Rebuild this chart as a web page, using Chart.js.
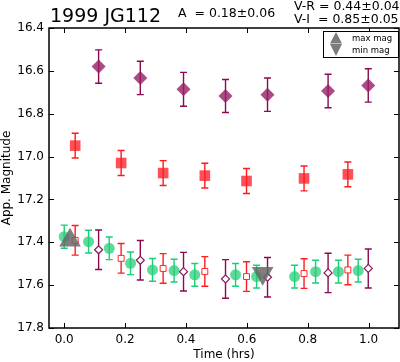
<!DOCTYPE html>
<html>
<head>
<meta charset="utf-8">
<script src="https://cdn.jsdelivr.net/npm/chart.js@4/dist/chart.umd.min.js"></script>
<style>
  body { margin: 0; background: #fff; }
</style>
</head>
<body>
<canvas id="c" width="400" height="362"></canvas>
<script>
// axis ticks
const xTicks = [0.0, 0.2, 0.4, 0.6, 0.8, 1.0];
const yTicks = [16.4, 16.6, 16.8, 17.0, 17.2, 17.4, 17.6, 17.8];

// I band (filled diamonds)
const iTime = [0.113, 0.250, 0.392, 0.530, 0.668, 0.867, 0.999];
const iMag = [16.580, 16.633, 16.686, 16.717, 16.711, 16.694, 16.668];
const iErr = [0.078, 0.078, 0.079, 0.077, 0.078, 0.078, 0.078];

// R band (filled squares)
const rTime = [0.036, 0.187, 0.325, 0.462, 0.599, 0.788, 0.932];
const rMag = [16.949, 17.030, 17.077, 17.089, 17.114, 17.102, 17.083];
const rErr = [0.058, 0.058, 0.058, 0.058, 0.058, 0.058, 0.058];

// V band (circles)
const vTime = [0.000, 0.080, 0.148, 0.218, 0.290, 0.361, 0.429, 0.563, 0.632, 0.757, 0.826, 0.901, 0.966];
const vMag = [17.374, 17.397, 17.428, 17.498, 17.529, 17.532, 17.552, 17.552, 17.560, 17.560, 17.537, 17.537, 17.532];
const vErr = [0.054, 0.053, 0.053, 0.053, 0.053, 0.053, 0.053, 0.053, 0.053, 0.053, 0.053, 0.053, 0.053];

// R and I shifted by colour (open markers)
const rShiftMag = [17.391, 17.475, 17.522, 17.536, 17.560, 17.546, 17.529];
const rShiftErr = [0.069, 0.069, 0.069, 0.069, 0.069, 0.069, 0.069];
const iShiftMag = [17.435, 17.484, 17.537, 17.571, 17.563, 17.543, 17.522];
const iShiftErr = [0.092, 0.092, 0.090, 0.090, 0.092, 0.092, 0.091];

// max / min magnitude markers
const maxTime = [0.019];
const maxMag = [17.39];
const minTime = [0.652];
const minMag = [17.545];

const legendLabels = ['max mag', 'min mag'];
const titleText = '1999 JG112';
const ampText = 'A  = 0.18\u00b10.06';
const colorTexts = ['V-R = 0.44\u00b10.04', 'V-I  = 0.85\u00b10.05'];

const pts = (xs, ys) => xs.map((x, i) => ({x: x, y: ys[i]}));

Chart.defaults.font.family = 'DejaVu Sans';
Chart.defaults.color = '#000';

// error bars, drawn just under each dataset's markers
const errorBars = {
  id: 'errorBars',
  beforeDatasetDraw(chart, args) {
    const ds = chart.data.datasets[args.index];
    if (!ds.errors) return;
    const xs = chart.scales.x, ys = chart.scales.y;
    const ctx = chart.ctx;
    ctx.save();
    ctx.strokeStyle = ds.barColor;
    ctx.lineWidth = 1.4;
    ds.data.forEach((p, i) => {
      const px = xs.getPixelForValue(p.x);
      const top = ys.getPixelForValue(p.y - ds.errors[i]);
      const bot = ys.getPixelForValue(p.y + ds.errors[i]);
      ctx.beginPath();
      ctx.moveTo(px, top); ctx.lineTo(px, bot);
      ctx.moveTo(px - 3.5, top); ctx.lineTo(px + 3.5, top);
      ctx.moveTo(px - 3.5, bot); ctx.lineTo(px + 3.5, bot);
      ctx.stroke();
    });
    ctx.restore();
  }
};

// frame + inward ticks on all sides
const frame = {
  id: 'frame',
  afterDatasetsDraw(chart) {
    const {ctx, chartArea: a} = chart;
    const xs = chart.scales.x, ys = chart.scales.y;
    ctx.save();
    ctx.strokeStyle = '#000';
    ctx.lineWidth = 1;
    ctx.beginPath();
    xTicks.forEach(v => {
      const px = Math.round(xs.getPixelForValue(v)) + 0.5;
      ctx.moveTo(px, a.bottom); ctx.lineTo(px, a.bottom - 5);
      ctx.moveTo(px, a.top); ctx.lineTo(px, a.top + 5);
    });
    yTicks.forEach(v => {
      const py = Math.round(ys.getPixelForValue(v)) + 0.5;
      ctx.moveTo(a.left, py); ctx.lineTo(a.left + 5, py);
      ctx.moveTo(a.right, py); ctx.lineTo(a.right - 5, py);
    });
    ctx.stroke();
    ctx.lineWidth = 1.5;
    ctx.strokeRect(a.left, a.top, a.right - a.left, a.bottom - a.top);
    ctx.restore();
  },
  afterDraw(chart) {
    const ctx = chart.ctx;
    ctx.save();
    // titles
    ctx.fillStyle = '#000';
    ctx.textBaseline = 'alphabetic';
    ctx.font = '19px "DejaVu Sans"';
    ctx.fillText(titleText, 50, 22);
    ctx.font = '12.5px "DejaVu Sans"';
    ctx.fillText(ampText, 178, 17);
    ctx.fillText(colorTexts[0], 294, 10);
    ctx.fillText(colorTexts[1], 294, 23);
    // legend box
    ctx.fillStyle = '#fff';
    ctx.fillRect(323.5, 31.5, 75, 26);
    ctx.strokeStyle = '#000';
    ctx.lineWidth = 1;
    ctx.strokeRect(323.5, 31.5, 75, 26);
    ctx.fillStyle = 'rgba(110,110,110,0.9)';
    ctx.beginPath();
    ctx.moveTo(336, 32); ctx.lineTo(342, 43.5); ctx.lineTo(330, 43.5); ctx.closePath();
    ctx.fill();
    ctx.beginPath();
    ctx.moveTo(330, 44); ctx.lineTo(342, 44); ctx.lineTo(336, 56); ctx.closePath();
    ctx.fill();
    ctx.fillStyle = '#000';
    ctx.font = '8.5px "DejaVu Sans"';
    ctx.textBaseline = 'middle';
    ctx.fillText(legendLabels[0], 352, 38.5);
    ctx.fillText(legendLabels[1], 352, 51);
    ctx.restore();
  }
};

new Chart(document.getElementById('c'), {
  type: 'scatter',
  data: {
    datasets: [
      {
        label: 'max mag', data: pts(maxTime, maxMag),
        pointStyle: 'triangle', pointRadius: 12.5,
        backgroundColor: 'rgba(105,105,105,0.85)', borderColor: 'rgba(105,105,105,0.85)', borderWidth: 0
      },
      {
        label: 'min mag', data: pts(minTime, minMag),
        pointStyle: 'triangle', rotation: 180, pointRadius: 12.5,
        backgroundColor: 'rgba(105,105,105,0.85)', borderColor: 'rgba(105,105,105,0.85)', borderWidth: 0
      },
      {
        label: 'I shifted', data: pts(iTime, iShiftMag), errors: iShiftErr, barColor: '#8a0a4e',
        pointStyle: 'rectRot', pointRadius: 4,
        backgroundColor: '#fff', borderColor: '#8b1a5a', borderWidth: 1.2
      },
      {
        label: 'R shifted', data: pts(rTime, rShiftMag), errors: rShiftErr, barColor: '#ff1f1f',
        pointStyle: 'rect', pointRadius: 4.2,
        backgroundColor: '#fff', borderColor: '#ff2a2a', borderWidth: 1
      },
      {
        label: 'V', data: pts(vTime, vMag), errors: vErr, barColor: '#17d079',
        pointStyle: 'circle', pointRadius: 5.5,
        backgroundColor: 'rgba(40,205,120,0.75)', borderColor: 'rgba(40,205,120,0.75)', borderWidth: 0
      },
      {
        label: 'R', data: pts(rTime, rMag), errors: rErr, barColor: '#ff1a1a',
        pointStyle: 'rect', pointRadius: 7.5,
        backgroundColor: 'rgba(255,30,40,0.78)', borderColor: 'rgba(255,30,40,0.78)', borderWidth: 0
      },
      {
        label: 'I', data: pts(iTime, iMag), errors: iErr, barColor: '#8a0a4e',
        pointStyle: 'rectRot', pointRadius: 7,
        backgroundColor: 'rgba(150,30,100,0.8)', borderColor: 'rgba(150,30,100,0.8)', borderWidth: 0
      }
    ]
  },
  options: {
    responsive: false,
    devicePixelRatio: 1,
    animation: false,
    events: [],
    layout: {autoPadding: false, padding: {top: 28, right: 1, left: 0, bottom: 0}},
    plugins: {legend: {display: false}, tooltip: {enabled: false}},
    scales: {
      x: {
        type: 'linear', min: -0.05, max: 1.1,
        grid: {display: false, drawTicks: false},
        border: {display: false},
        afterBuildTicks: s => { s.ticks = xTicks.map(v => ({value: v})); },
        afterFit: s => { s.height = 34; s.paddingLeft = 0; s.paddingRight = 0; },
        ticks: {font: {size: 12}, padding: 5, maxRotation: 0, callback: v => v.toFixed(1)},
        title: {display: true, text: 'Time (hrs)', font: {size: 12}, padding: {top: 2, bottom: 0}}
      },
      y: {
        type: 'linear', reverse: true, min: 16.4, max: 17.8,
        grid: {display: false, drawTicks: false},
        border: {display: false},
        afterBuildTicks: s => { s.ticks = yTicks.map(v => ({value: v})); },
        afterFit: s => { s.width = 49; s.paddingTop = 0; s.paddingBottom = 0; },
        ticks: {font: {size: 12}, padding: 5, callback: v => v.toFixed(1)},
        title: {display: true, text: 'App. Magnitude', font: {size: 12}, padding: {top: 0, bottom: 0}}
      }
    }
  },
  plugins: [errorBars, frame]
});
</script>
</body>
</html>
